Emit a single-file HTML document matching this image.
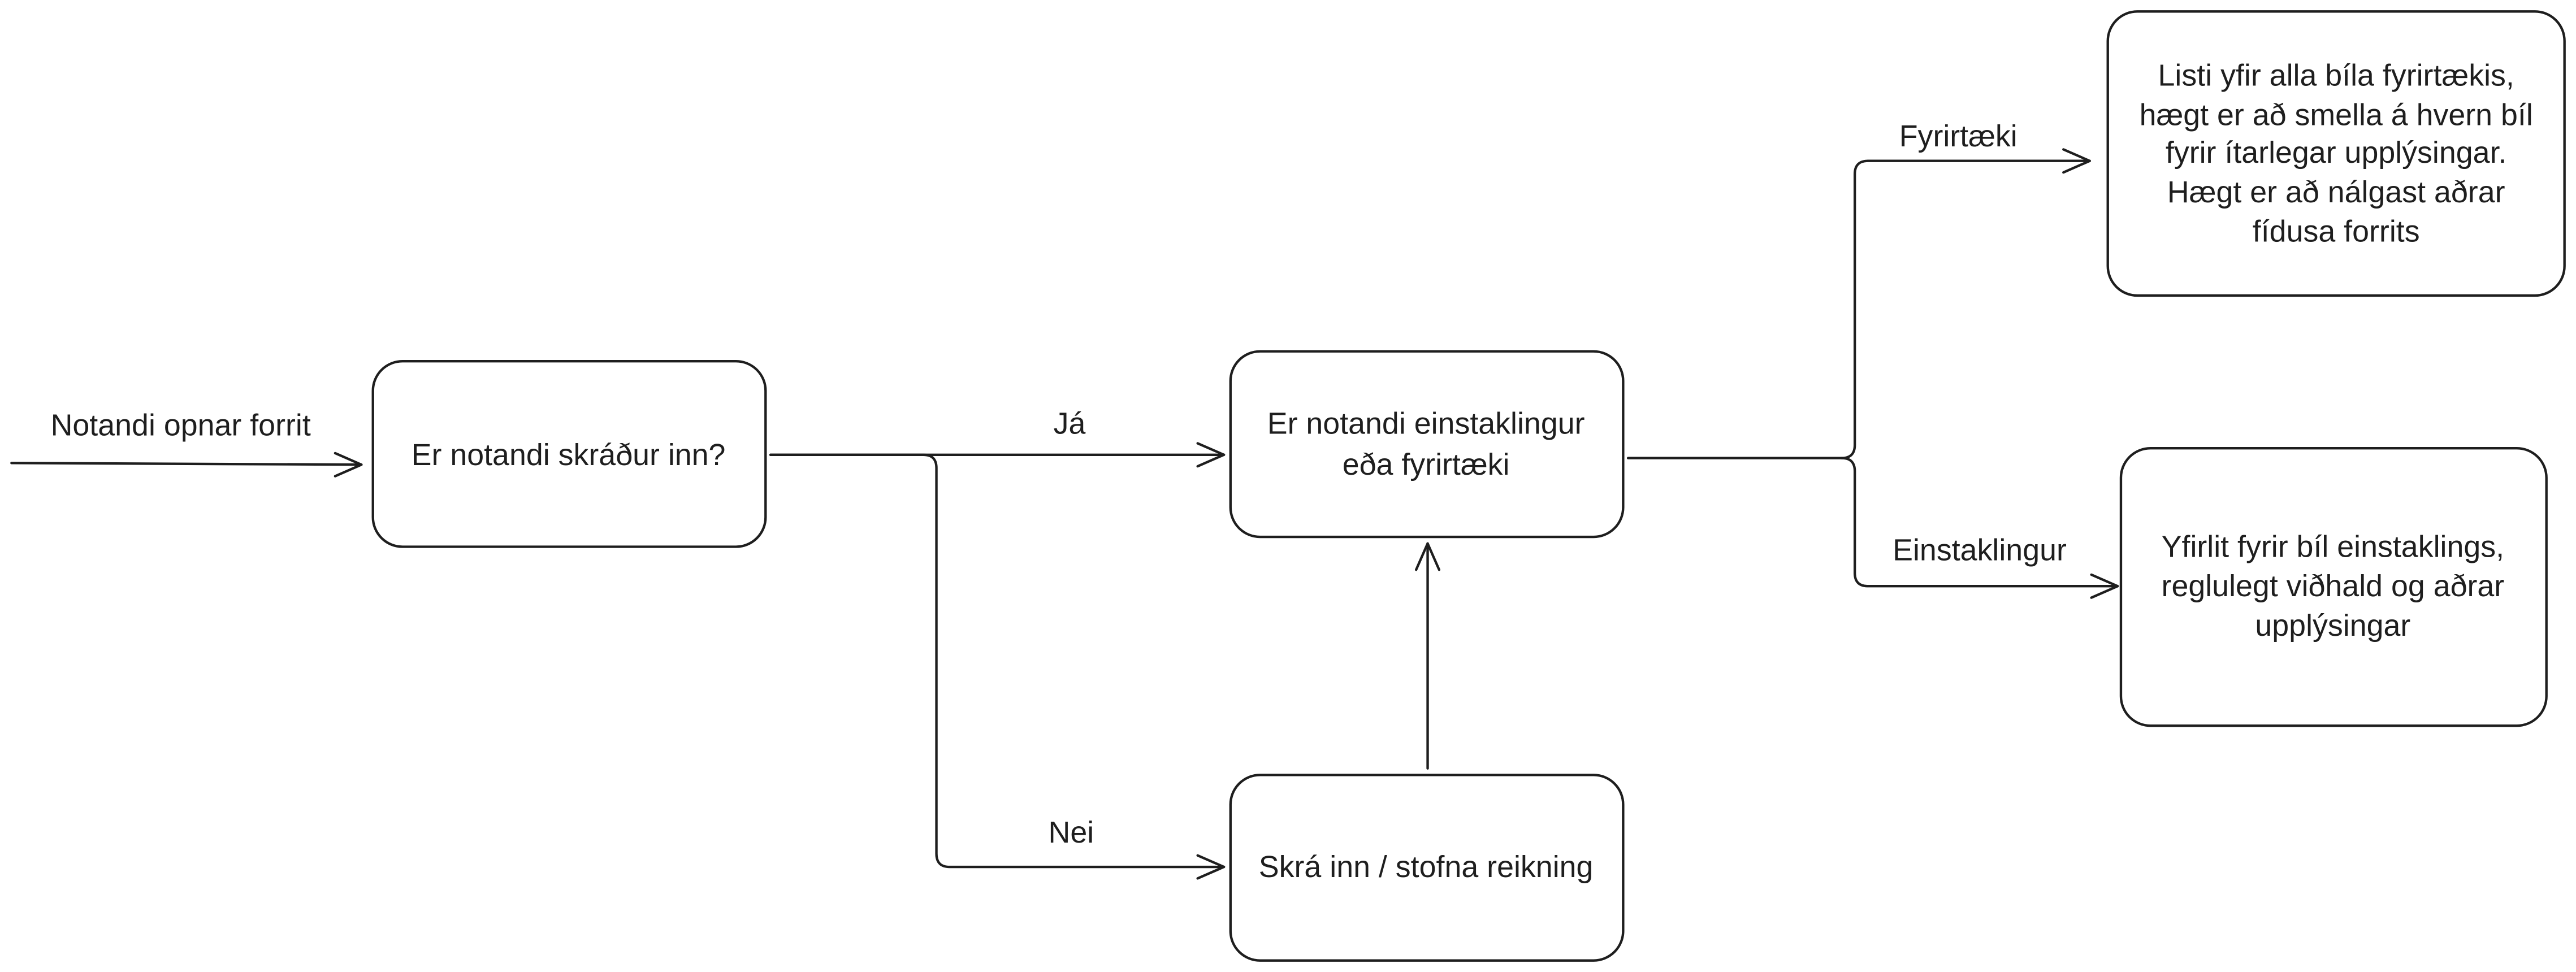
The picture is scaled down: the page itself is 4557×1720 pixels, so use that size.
<!DOCTYPE html>
<html><head><meta charset="utf-8"><style>
html,body{margin:0;padding:0;background:#fff;}
svg{display:block;}
text{font-family:"Liberation Sans",sans-serif;font-size:18.5px;fill:#1e1e1e;text-anchor:middle;dominant-baseline:central;}
</style></head><body>
<svg width="4557" height="1720" viewBox="0 0 1568 592" preserveAspectRatio="none" xmlns="http://www.w3.org/2000/svg">
<g fill="none" stroke="#1e1e1e" stroke-width="1.5" stroke-linecap="round" stroke-linejoin="round">
<rect x="227" y="220" width="239" height="113" rx="18"/>
<rect x="749" y="214" width="239" height="113" rx="18"/>
<rect x="749" y="472" width="239" height="113" rx="18"/>
<rect x="1283" y="7" width="278" height="173" rx="18"/>
<rect x="1291" y="273" width="259" height="169" rx="18"/>
<path d="M7 282 L220 283"/><path d="M204 276 L220 283 L204 290"/>
<path d="M469 277 L745 277"/><path d="M729 270 L745 277 L729 284"/>
<path d="M469 277 L562 277 Q570 277 570 285 L570 520 Q570 528 578 528 L745 528"/><path d="M729 521 L745 528 L729 535"/>
<path d="M869 468 L869 331"/><path d="M862 347 L869 331 L876 347"/>
<path d="M991 279 L1121 279 Q1129 279 1129 271 L1129 106 Q1129 98 1137 98 L1272 98"/><path d="M1256 91 L1272 98 L1256 105"/>
<path d="M1121 279 Q1129 279 1129 287 L1129 349 Q1129 357 1137 357 L1289 357"/><path d="M1273 350 L1289 357 L1273 364"/>
</g>
<text x="110" y="259">Notandi opnar forrit</text>
<text x="346" y="277">Er notandi skráður inn?</text>
<text x="651" y="258">Já</text>
<text x="652" y="507">Nei</text>
<text x="868" y="258">Er notandi einstaklingur</text>
<text x="868" y="283">eða fyrirtæki</text>
<text x="868" y="528">Skrá inn / stofna reikning</text>
<text x="1192" y="83">Fyrirtæki</text>
<text x="1205" y="335">Einstaklingur</text>
<text x="1422" y="46">Listi yfir alla bíla fyrirtækis,</text>
<text x="1422" y="70">hægt er að smella á hvern bíl</text>
<text x="1422" y="93">fyrir ítarlegar upplýsingar.</text>
<text x="1422" y="117">Hægt er að nálgast aðrar</text>
<text x="1422" y="141">fídusa forrits</text>
<text x="1420" y="333">Yfirlit fyrir bíl einstaklings,</text>
<text x="1420" y="357">reglulegt viðhald og aðrar</text>
<text x="1420" y="381">upplýsingar</text>
</svg>
</body></html>
